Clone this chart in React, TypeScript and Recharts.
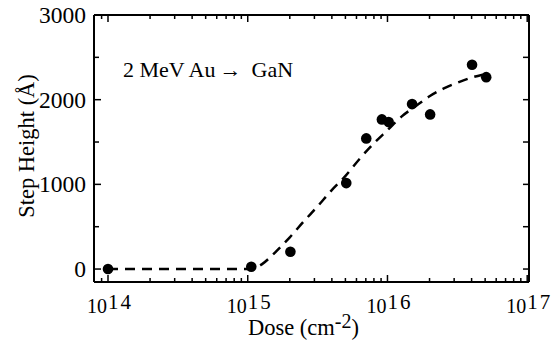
import { ComposedChart, Line, Scatter, XAxis, YAxis, Label } from "recharts";

// measured points (dose in cm^-2, step height in Å)
const doses = [1e14, 1.06e15, 2.02e15, 5.07e15, 7.05e15, 9.12e15, 1.02e16, 1.5e16, 2.02e16, 4.03e16, 5.09e16];
const heights = [0, 27, 204, 1015, 1543, 1767, 1735, 1948, 1826, 2412, 2266];

// dashed guide curve
const fitDoses = [1e14, 1e15, 1.12e15, 1.26e15, 1.58e15, 2e15, 2.51e15, 3.16e15, 3.98e15, 5.01e15, 6.31e15, 7.94e15, 1e16, 1.26e16, 1.58e16, 2e16, 2.51e16, 3.16e16, 3.98e16, 4.8e16];
const fitHeights = [0, 0, 8, 55, 200, 375, 560, 740, 930, 1100, 1300, 1480, 1640, 1800, 1920, 2040, 2130, 2200, 2260, 2295];

const majorX = [1e14, 1e15, 1e16, 1e17];
const minorX = [9e13];
[1e14, 1e15, 1e16].forEach((d) => {
  for (let k = 2; k <= 9; k++) minorX.push(k * d);
});
const xTicks = [...majorX, ...minorX].sort((a, b) => a - b);
const yTicks = [0, 500, 1000, 1500, 2000, 2500, 3000];
const yLabeled = [0, 1000, 2000, 3000];

const points = doses.map((d, i) => ({ dose: d, h: heights[i] }));
const fit = fitDoses.map((d, i) => ({ dose: d, h: fitHeights[i] }));

const W = 557, H = 342;
const LEFT = 94, RIGHT = 529, TOP = 15, BOTTOM = 282;
const FONT = "Liberation Serif, DejaVu Serif, Times New Roman, serif";
const txt = { fontFamily: FONT, fill: "#000" };

const isMajor = (v: number) => majorX.includes(v);

const BottomTick = (p: any) => {
  const v = p.payload.value;
  const major = isMajor(v);
  const exp = Math.round(Math.log10(v));
  return (
    <g>
      <line x1={p.x} x2={p.x} y1={BOTTOM} y2={BOTTOM - (major ? 7 : 4)} stroke="#000" strokeWidth={1.5} />
      {major && (
        <text x={p.x + 2} y={313} textAnchor="middle" style={{ ...txt, fontSize: 20 }}>
          <tspan>10</tspan>
          <tspan dy={-4} dx={1} style={{ fontSize: 21, letterSpacing: 2 }}>{exp}</tspan>
        </text>
      )}
    </g>
  );
};

const TopTick = (p: any) => {
  const major = isMajor(p.payload.value);
  return <line x1={p.x} x2={p.x} y1={TOP} y2={TOP + (major ? 7 : 4)} stroke="#000" strokeWidth={1.5} />;
};

const LeftTick = (p: any) => {
  const v = p.payload.value;
  const lab = yLabeled.includes(v);
  return (
    <g>
      <line x1={LEFT} x2={LEFT + (lab ? 7 : 5)} y1={p.y} y2={p.y} stroke="#000" strokeWidth={1.5} />
      {lab && (
        <text x={LEFT - 8} y={p.y + 8} textAnchor="end" style={{ ...txt, fontSize: 23.5 }}>
          {v}
        </text>
      )}
    </g>
  );
};

const RightTick = (p: any) => (
  <line x1={RIGHT} x2={RIGHT - 6} y1={p.y} y2={p.y} stroke="#000" strokeWidth={1.5} />
);

export default function App() {
  return (
    <div style={{ position: "absolute", left: 0, top: 0, width: W, height: H, background: "#fff", fontFamily: FONT }}>
      <ComposedChart width={W} height={H} margin={{ top: 0, right: 0, bottom: 0, left: 0 }}>
        <XAxis
          xAxisId="b"
          dataKey="dose"
          type="number"
          scale="log"
          domain={[7.94e13, 1.03e17]}
          allowDataOverflow
          ticks={xTicks}
          interval={0}
          tick={BottomTick}
          tickLine={false}
          tickSize={0}
          tickMargin={0}
          height={60}
          axisLine={{ stroke: "#000", strokeWidth: 2 }}
        >
          <Label
            content={() => (
              <text x={248} y={335} style={{ ...txt, fontSize: 22.5 }}>
                <tspan>Dose (cm</tspan>
                <tspan dy={-7} style={{ fontSize: 20 }}>-2</tspan>
                <tspan dy={7}>)</tspan>
              </text>
            )}
          />
        </XAxis>
        <XAxis
          xAxisId="t"
          orientation="top"
          dataKey="dose"
          type="number"
          scale="log"
          domain={[7.94e13, 1.03e17]}
          allowDataOverflow
          ticks={xTicks}
          interval={0}
          tick={TopTick}
          tickLine={false}
          tickSize={0}
          height={15}
          axisLine={{ stroke: "#000", strokeWidth: 2 }}
        />
        <YAxis
          yAxisId="l"
          type="number"
          domain={[-153, 3000]}
          allowDataOverflow
          ticks={yTicks}
          interval={0}
          tick={LeftTick}
          tickLine={false}
          tickSize={0}
          width={94}
          axisLine={{ stroke: "#000", strokeWidth: 2 }}
        >
          <Label
            content={() => (
              <text
                x={0}
                y={0}
                transform="translate(34,146) rotate(-90)"
                textAnchor="middle"
                style={{ ...txt, fontSize: 22.5 }}
              >
                Step Height (Å)
              </text>
            )}
          />
        </YAxis>
        <YAxis
          yAxisId="r"
          orientation="right"
          type="number"
          domain={[-153, 3000]}
          allowDataOverflow
          ticks={yTicks}
          interval={0}
          tick={RightTick}
          tickLine={false}
          tickSize={0}
          width={28}
          axisLine={{ stroke: "#000", strokeWidth: 2 }}
        />
        <Line
          xAxisId="b"
          yAxisId="l"
          data={fit}
          dataKey="h"
          type="monotone"
          stroke="#000"
          strokeWidth={2.5}
          strokeDasharray="10 7"
          dot={false}
          activeDot={false}
          isAnimationActive={false}
        />
        <Scatter
          xAxisId="b"
          yAxisId="l"
          data={points}
          dataKey="h"
          isAnimationActive={false}
          shape={(p: any) => <circle cx={p.cx} cy={p.cy} r={5.3} fill="#000" />}
        />
        <text x={123} y={77} style={{ ...txt, fontSize: 22 }}>
          <tspan>2 MeV Au</tspan>
          <tspan dx={4}>→</tspan>
          <tspan dx={10}>GaN</tspan>
        </text>
      </ComposedChart>
    </div>
  );
}
